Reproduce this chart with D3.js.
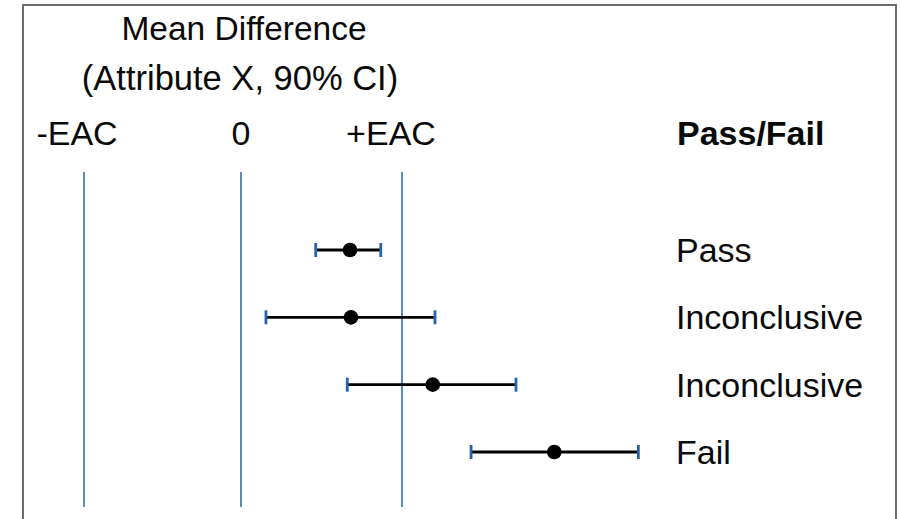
<!DOCTYPE html>
<html>
<head>
<meta charset="utf-8">
<script src="https://cdn.jsdelivr.net/npm/d3@7"></script>
<style>
  html, body { margin: 0; padding: 0; background: #fff; }
  svg { display: block; font-family: "Liberation Sans", Arial, sans-serif; }
</style>
</head>
<body>
<svg id="chart" width="900" height="519"></svg>
<script>
// Reference lines (in units of the equivalence acceptance criterion)
const refValues = [-1, 0, 1];
const refLabels = ["-EAC", "0", "+EAC"];

// Comparisons: 90% CI of the mean difference
const rowIds   = ["A", "B", "C", "D"];
const means    = [0.677, 0.683, 1.191, 1.946];
const lowers   = [0.464, 0.155, 0.660, 1.429];
const uppers   = [0.868, 1.205, 1.708, 2.468];
const verdicts = ["Pass", "Inconclusive", "Inconclusive", "Fail"];

const titleLines = ["Mean Difference", "(Attribute X, 90% CI)"];
const verdictHeader = "Pass/Fail";

const svg = d3.select("#chart");
const blue = "#2563ad";
const ink = "#0a0a0a";

const x = d3.scaleLinear().domain(refValues).range([84, 241, 402]);
const y = d3.scalePoint().domain(rowIds).range([250, 452]);

// Frame
svg.append("path")
  .attr("d", "M23,519 V5 H896 V519")
  .attr("fill", "none")
  .attr("stroke", "#6b6b6b")
  .attr("stroke-width", 2);

// Title
svg.selectAll("text.title").data(titleLines).join("text")
  .attr("class", "title")
  .attr("x", (d, i) => i ? 240 : 244)
  .attr("y", (d, i) => 40 + i * 50)
  .attr("text-anchor", "middle")
  .attr("font-size", (d, i) => i ? 34.5 : 33.5)
  .attr("fill", ink)
  .text(d => d);

// Reference line labels
const labelShift = [-7, 0, -11];
svg.selectAll("text.ref").data(refValues).join("text")
  .attr("class", "ref")
  .attr("x", (d, i) => x(d) + labelShift[i])
  .attr("y", 145)
  .attr("text-anchor", "middle")
  .attr("font-size", 34)
  .attr("fill", ink)
  .text((d, i) => refLabels[i]);

svg.append("text")
  .attr("x", 677)
  .attr("y", 145)
  .attr("font-size", 34)
  .attr("font-weight", "bold")
  .attr("fill", ink)
  .text(verdictHeader);

// Reference lines
svg.selectAll("line.ref").data(refValues).join("line")
  .attr("class", "ref")
  .attr("x1", d => x(d)).attr("x2", d => x(d))
  .attr("y1", 172).attr("y2", 507)
  .attr("stroke", blue)
  .attr("stroke-width", 1.5);

// Interval bars
const rows = rowIds.map((id, i) => ({ id, mean: means[i], lo: lowers[i], hi: uppers[i], verdict: verdicts[i] }));

const g = svg.selectAll("g.row").data(rows).join("g").attr("class", "row");

g.append("line")
  .attr("x1", d => x(d.lo)).attr("x2", d => x(d.hi))
  .attr("y1", d => y(d.id)).attr("y2", d => y(d.id))
  .attr("stroke", "#000")
  .attr("stroke-width", 2.8);

g.selectAll("line.cap").data(d => [{ v: d.lo, id: d.id }, { v: d.hi, id: d.id }]).join("line")
  .attr("class", "cap")
  .attr("x1", d => x(d.v)).attr("x2", d => x(d.v))
  .attr("y1", d => y(d.id) - 7).attr("y2", d => y(d.id) + 7)
  .attr("stroke", blue)
  .attr("stroke-width", 2.8);

g.append("circle")
  .attr("cx", d => x(d.mean))
  .attr("cy", d => y(d.id))
  .attr("r", 7.3)
  .attr("fill", "#000");

g.append("text")
  .attr("x", 676)
  .attr("y", d => y(d.id) + 12)
  .attr("font-size", 34)
  .attr("fill", ink)
  .text(d => d.verdict);
</script>
</body>
</html>
